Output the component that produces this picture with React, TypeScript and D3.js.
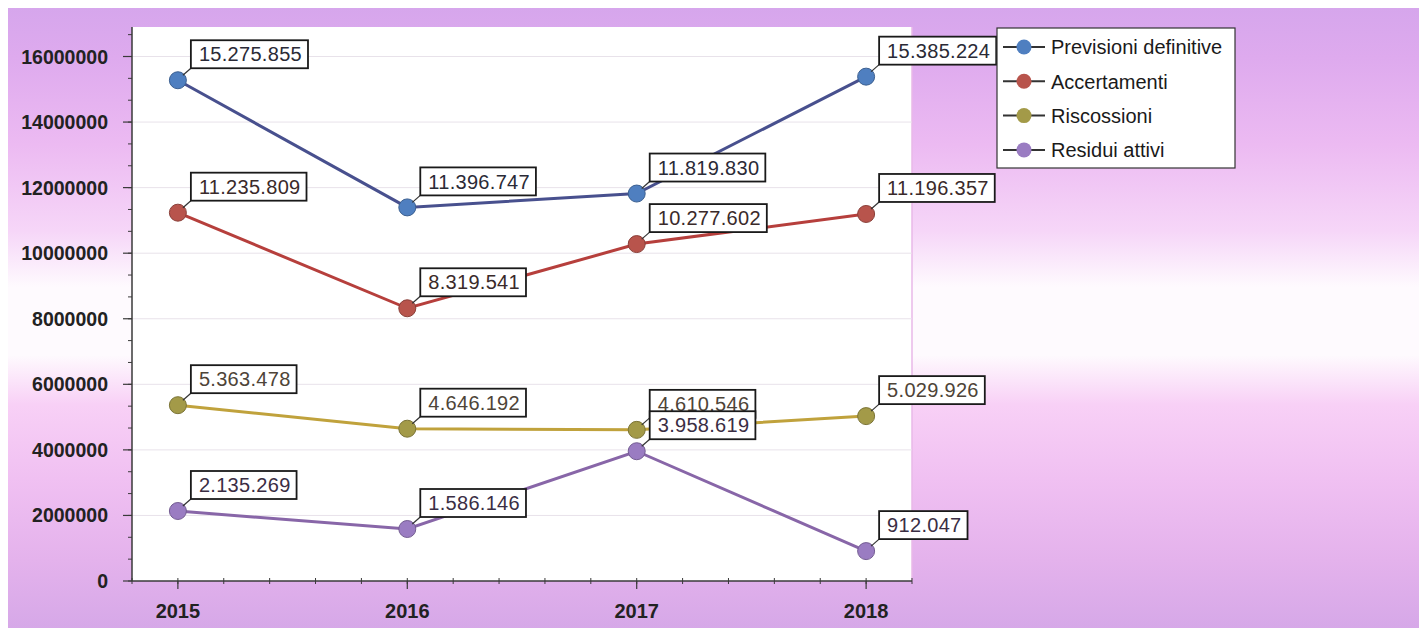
import React, { useEffect, useRef } from "react";
import * as d3 from "d3";

const years = [2015, 2016, 2017, 2018];
const seriesNames = ["Previsioni definitive", "Accertamenti", "Riscossioni", "Residui attivi"];
const previsioni = [15275855, 11396747, 11819830, 15385224];
const accertamenti = [11235809, 8319541, 10277602, 11196357];
const riscossioni = [5363478, 4646192, 4610546, 5029926];
const residui = [2135269, 1586146, 3958619, 912047];
const yTicks = [0, 2000000, 4000000, 6000000, 8000000, 10000000, 12000000, 14000000, 16000000];

const lineColors = ["#48508e", "#b63f3c", "#c0a23c", "#8866a8"];
const markerColors = ["#4f7fc0", "#b8544c", "#a39a48", "#9a7cc2"];
const textColors = ["#2a2a36", "#3a2a2a", "#4e4438", "#3a2e44"];

const fmt = (v: number) => d3.format(",")(v).replace(/,/g, ".");

const W = 1419;
const H = 620;

const App: React.FC = () => {
  const ref = useRef<SVGSVGElement | null>(null);

  useEffect(() => {
    document.body.style.overflow = "hidden";
    const svg = d3.select(ref.current);
    svg.selectAll("*").remove();

    const allSeries = [previsioni, accertamenti, riscossioni, residui];
    const plot = { left: 124, top: 19, right: 904, bottom: 573 };

    const x = d3.scaleLinear().domain([2014.8, 2018.2]).range([plot.left, plot.right]);
    const y = d3.scaleLinear().domain([0, 16900000]).range([plot.bottom, plot.top]);

    // background gradient
    const defs = svg.append("defs");
    const bg = defs
      .append("linearGradient")
      .attr("id", "bg")
      .attr("x1", 0)
      .attr("y1", 0)
      .attr("x2", 0)
      .attr("y2", 1);
    const stops: [number, string][] = [
      [0, "#d6a6ec"],
      [0.08, "#deaaee"],
      [0.22, "#ecbaf2"],
      [0.36, "#f6d6f8"],
      [0.45, "#fefafe"],
      [0.56, "#fefafe"],
      [0.64, "#f8d0f6"],
      [0.76, "#f0c0f2"],
      [0.89, "#e4b2ec"],
      [1, "#d6a8e8"],
    ];
    stops.forEach(([o, c]) => bg.append("stop").attr("offset", o).attr("stop-color", c));

    svg.append("rect").attr("width", W).attr("height", H).attr("fill", "url(#bg)");

    // plot area
    svg
      .append("rect")
      .attr("x", plot.left)
      .attr("y", plot.top)
      .attr("width", plot.right - plot.left)
      .attr("height", plot.bottom - plot.top)
      .attr("fill", "#ffffff");
    svg
      .append("line")
      .attr("x1", plot.right)
      .attr("x2", plot.right)
      .attr("y1", plot.top)
      .attr("y2", plot.bottom)
      .attr("stroke", "#e8b8e8")
      .attr("stroke-width", 1.5);

    // gridlines
    svg
      .append("g")
      .selectAll("line")
      .data(yTicks.filter((d) => d > 0))
      .join("line")
      .attr("x1", plot.left)
      .attr("x2", plot.right)
      .attr("y1", (d) => y(d))
      .attr("y2", (d) => y(d))
      .attr("stroke", "#e8e2ea")
      .attr("stroke-width", 1);

    // Y axis
    const yAxis = svg.append("g");
    yAxis
      .append("line")
      .attr("x1", plot.left)
      .attr("x2", plot.left)
      .attr("y1", plot.top)
      .attr("y2", plot.bottom)
      .attr("stroke", "#3a3a3a")
      .attr("stroke-width", 1.5);
    const yMinor = d3.range(0, 16900000, 2000000 / 3);
    yAxis
      .selectAll("line.minor")
      .data(yMinor)
      .join("line")
      .attr("class", "minor")
      .attr("x1", plot.left - 4)
      .attr("x2", plot.left)
      .attr("y1", (d) => y(d))
      .attr("y2", (d) => y(d))
      .attr("stroke", "#3a3a3a");
    yAxis
      .selectAll("line.major")
      .data(yTicks)
      .join("line")
      .attr("class", "major")
      .attr("x1", plot.left - 9)
      .attr("x2", plot.left)
      .attr("y1", (d) => y(d))
      .attr("y2", (d) => y(d))
      .attr("stroke", "#3a3a3a")
      .attr("stroke-width", 1.2);
    yAxis
      .selectAll("text")
      .data(yTicks)
      .join("text")
      .attr("x", 100)
      .attr("y", (d) => y(d))
      .attr("dy", "0.36em")
      .attr("text-anchor", "end")
      .style("font-family", "'Liberation Sans', Arial, sans-serif")
      .style("font-weight", "bold")
      .style("font-size", "19.5px")
      .attr("fill", "#222")
      .text((d) => String(d));

    // X axis
    const xAxis = svg.append("g");
    xAxis
      .append("line")
      .attr("x1", plot.left)
      .attr("x2", plot.right)
      .attr("y1", plot.bottom)
      .attr("y2", plot.bottom)
      .attr("stroke", "#3a3a3a")
      .attr("stroke-width", 1.5);
    const xMinor = d3.range(2014.8, 2018.21, 0.2);
    xAxis
      .selectAll("line.minor")
      .data(xMinor)
      .join("line")
      .attr("class", "minor")
      .attr("x1", (d) => x(d))
      .attr("x2", (d) => x(d))
      .attr("y1", plot.bottom - 3)
      .attr("y2", plot.bottom + 3)
      .attr("stroke", "#3a3a3a");
    xAxis
      .selectAll("line.major")
      .data(years)
      .join("line")
      .attr("class", "major")
      .attr("x1", (d) => x(d))
      .attr("x2", (d) => x(d))
      .attr("y1", plot.bottom)
      .attr("y2", plot.bottom + 8)
      .attr("stroke", "#3a3a3a")
      .attr("stroke-width", 1.2);
    xAxis
      .selectAll("text")
      .data(years)
      .join("text")
      .attr("x", (d) => x(d))
      .attr("y", 610)
      .attr("text-anchor", "middle")
      .style("font-family", "'Liberation Sans', Arial, sans-serif")
      .style("font-weight", "bold")
      .style("font-size", "20px")
      .attr("fill", "#222")
      .text((d) => String(d));

    // lines and markers
    const line = d3
      .line<number>()
      .x((_, i) => x(years[i]))
      .y((d) => y(d));

    allSeries.forEach((s, si) => {
      svg
        .append("path")
        .datum(s)
        .attr("d", line)
        .attr("fill", "none")
        .attr("stroke", lineColors[si])
        .attr("stroke-width", 3);
    });
    allSeries.forEach((s, si) => {
      svg
        .append("g")
        .selectAll("circle")
        .data(s)
        .join("circle")
        .attr("cx", (_, i) => x(years[i]))
        .attr("cy", (d) => y(d))
        .attr("r", 8.5)
        .attr("fill", markerColors[si])
        .attr("stroke", d3.color(markerColors[si])!.darker(0.8).formatHex())
        .attr("stroke-width", 1);
    });

    // data labels
    allSeries.forEach((s, si) => {
      s.forEach((v, i) => {
        const px = x(years[i]);
        const py = y(v);
        const bx = px + 13;
        const by = py - 12;
        const g = svg.append("g");
        g.append("line")
          .attr("x1", px + 5)
          .attr("y1", py - 5)
          .attr("x2", bx)
          .attr("y2", by)
          .attr("stroke", "#333")
          .attr("stroke-width", 1.2);
        const rect = g.append("rect");
        const t = g
          .append("text")
          .attr("x", bx + 8)
          .attr("y", by - 14)
          .attr("dy", "0.36em")
          .style("font-family", "'Liberation Sans', Arial, sans-serif")
          .style("font-size", "20px")
          .style("letter-spacing", "0.3px")
          .attr("fill", textColors[si])
          .text(fmt(v));
        const tw = (t.node() as SVGTextElement).getComputedTextLength();
        rect
          .attr("x", bx)
          .attr("y", by - 28)
          .attr("width", tw + 14)
          .attr("height", 28)
          .attr("fill", "#fff")
          .attr("stroke", "#1a1a1a")
          .attr("stroke-width", 1.8);
      });
    });

    // legend
    const legend = svg.append("g");
    legend
      .append("rect")
      .attr("x", 989)
      .attr("y", 20)
      .attr("width", 238)
      .attr("height", 140)
      .attr("fill", "#fff")
      .attr("stroke", "#333")
      .attr("stroke-width", 1.2);
    seriesNames.forEach((name, i) => {
      const cy = 39 + i * 34.3;
      legend
        .append("line")
        .attr("x1", 995)
        .attr("x2", 1037)
        .attr("y1", cy)
        .attr("y2", cy)
        .attr("stroke", "#333")
        .attr("stroke-width", 2);
      legend
        .append("circle")
        .attr("cx", 1016)
        .attr("cy", cy)
        .attr("r", 7.5)
        .attr("fill", markerColors[i]);
      legend
        .append("text")
        .attr("x", 1043)
        .attr("y", cy)
        .attr("dy", "0.36em")
        .style("font-family", "'Liberation Sans', Arial, sans-serif")
        .style("font-size", "20px")
        .attr("fill", "#1a1a1a")
        .text(name);
    });
  }, []);

  return <svg ref={ref} width={W} height={H} style={{ display: "block" }} />;
};

export default App;
